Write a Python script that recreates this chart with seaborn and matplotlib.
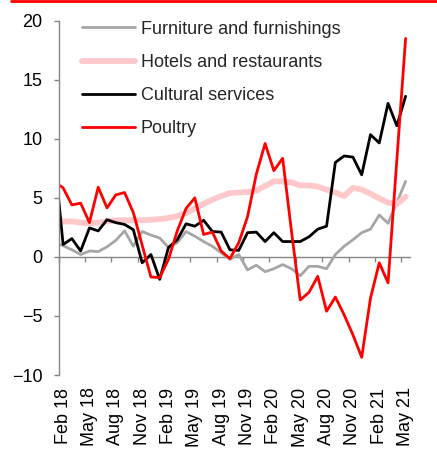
import numpy as np
import pandas as pd
import matplotlib
matplotlib.use('Agg')
import matplotlib.pyplot as plt
from matplotlib.lines import Line2D
import seaborn as sns

# Monthly data, Jan 18 .. May 21 (Jan 18 only sits left of the axis, clipped)
months = pd.date_range('2018-01-01', '2021-05-01', freq='MS')
month_labels = [d.strftime('%b %y') for d in months]

furniture = [1.2, 0.95, 0.6, 0.2, 0.5, 0.45, 0.85, 1.4, 2.2, 0.9, 2.15, 1.85,
             1.6, 0.8, 1.2, 2.15, 1.75, 1.3, 0.9, 0.35, -0.2, 0.2, -1.1, -0.7,
             -1.25, -1.0, -0.65, -1.0, -1.6, -0.8, -0.8, -1.0, 0.2, 0.9, 1.45, 2.05,
             2.35, 3.55, 2.85, 4.6, 6.4]
hotels = [3.15, 3.0, 3.0, 2.9, 2.85, 2.9, 3.0, 3.1, 3.1, 3.1, 3.1, 3.15,
          3.2, 3.3, 3.45, 3.7, 4.1, 4.5, 4.85, 5.15, 5.4, 5.45, 5.5, 5.6,
          6.0, 6.4, 6.4, 6.3, 6.05, 6.05, 5.95, 5.7, 5.45, 5.15, 5.85, 5.7,
          5.35, 4.95, 4.6, 4.45, 5.1]
cultural = [8.7, 1.05, 1.55, 0.5, 2.45, 2.2, 3.15, 2.9, 2.75, 2.3, -0.5, 0.2,
            -1.9, 0.8, 1.45, 2.8, 2.6, 3.1, 2.15, 2.1, 0.6, 0.55, 2.05, 2.1,
            1.3, 2.05, 1.3, 1.3, 1.3, 1.7, 2.35, 2.6, 8.0, 8.55, 8.45, 6.95,
            10.35, 9.65, 13.0, 11.1, 13.6]
poultry = [6.35, 5.85, 4.4, 4.55, 2.9, 5.9, 4.15, 5.25, 5.45, 3.75, 1.0, -1.7,
           -1.75, -0.2, 2.2, 4.1, 5.0, 1.9, 2.1, 0.5, -0.15, 1.2, 3.4, 7.0,
           9.6, 7.3, 8.35, 2.2, -3.65, -3.0, -1.65, -4.6, -3.4, -4.9, -6.6, -8.5,
           -3.5, -0.5, -2.2, 8.2, 18.5]

series_names = ['Furniture and furnishings', 'Hotels and restaurants',
                'Cultural services', 'Poultry']
series_values = [furniture, hotels, cultural, poultry]
colors = ['#A6A6A6', '#FFC9CC', '#000000', '#FF0000']
widths = [2.0, 4.2, 2.0, 2.0]

x = np.arange(len(months)) - 1  # Feb 18 -> 0

sns.set_theme(style='white')
plt.rcParams['font.family'] = ['Liberation Sans', 'DejaVu Sans']
FS = 13

fig = plt.figure(figsize=(4.37, 4.49), dpi=100)
ax = fig.add_axes([58.7 / 437, 1 - 375 / 449, (410 - 58.7) / 437, (375 - 20.7) / 449])

for name, vals, col, lw in zip(series_names, series_values, colors, widths):
    df = pd.DataFrame({'x': x, 'y': vals})
    sns.lineplot(data=df, x='x', y='y', ax=ax, color=col, linewidth=lw, label=name)

ax.set_xlim(-0.5, 39.5)
ax.set_ylim(-10, 20)
ax.set_xlabel('')
ax.set_ylabel('')

axis_grey = '#878787'
for s in ['top', 'right', 'bottom']:
    ax.spines[s].set_visible(False)
ax.spines['left'].set_color(axis_grey)
ax.spines['left'].set_linewidth(1.0)

ax.set_yticks(range(-10, 21, 5))
ax.tick_params(axis='y', left=True, length=3.6, width=1.0, color=axis_grey,
               pad=8, labelsize=FS, labelcolor='black')

label_pos = x[1::3]
ax.set_xticks(label_pos, [month_labels[i + 1] for i in label_pos])
ax.tick_params(axis='x', length=0, rotation=90, pad=9, labelsize=FS, labelcolor='black')

# zero line with tick marks between categories
secax = ax.secondary_xaxis(10 / 30)
secax.set_xticks(np.arange(-0.5, 39, 3))
secax.tick_params(axis='x', length=3.6, width=1.0, color=axis_grey, labelbottom=False)
secax.spines['bottom'].set_color(axis_grey)
secax.spines['bottom'].set_linewidth(1.0)

ax.legend(loc='upper left', bbox_to_anchor=(0.066, 1.0), frameon=False, fontsize=FS,
          handlelength=2.95, handletextpad=0.3, labelspacing=0.9,
          borderaxespad=0, borderpad=0)

# red rule at the very top
fig.add_artist(Line2D([11 / 437, 1], [1 - 1.3 / 449] * 2, color='#FF0000', lw=2,
                      transform=fig.transFigure))

fig.savefig('out.png', dpi=100)
